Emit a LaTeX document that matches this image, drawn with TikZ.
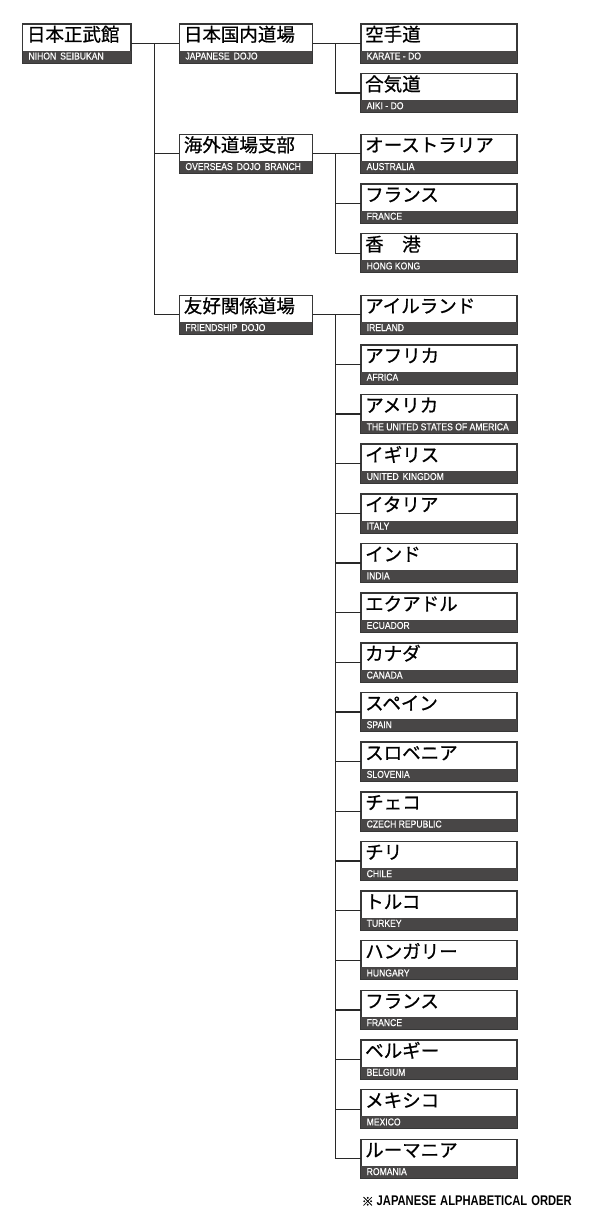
\documentclass[tikz,border=0pt]{standalone}
\usepackage{fontspec}
\newfontfamily\jpfont[FakeBold=0.7]{Noto Sans CJK JP}
\newfontfamily\enfont[FakeStretch=0.86,FakeBold=0.5]{Liberation Sans}
\newfontfamily\notefont[FakeStretch=0.8]{Liberation Sans Bold}
\newfontfamily\notesym[FakeBold=0.5]{Noto Sans CJK JP}
\definecolor{bandcol}{RGB}{72,70,70}
\definecolor{linecol}{RGB}{40,40,40}
\definecolor{borderc}{RGB}{55,55,55}
\newcommand\wsp{\hspace{4pt}}
\newcommand\entrybox[6]{%
  \node[box, minimum width=#4pt] (#1) at (#2,#3) {};
  \fill[bandcol] (#1.south west) rectangle ([yshift=12.5pt]#1.south east);
  \draw[borderc, line width=1pt] (#1.south west) rectangle (#1.north east);
  \node[jptext] (#1-jp) at ([xshift=4.5pt,yshift=-14.2pt]#1.north west) {#5};
  \node[entext] (#1-en) at ([xshift=6pt,yshift=3.5pt]#1.south west) {#6};
}
\tikzset{
  box/.style={draw=borderc, line width=1pt, fill=white, minimum height=38.5pt, inner sep=0pt, anchor=north west},
  jptext/.style={anchor=west, inner sep=0pt, font=\jpfont\fontsize{18.5pt}{20pt}\selectfont, text height=0.8em, text depth=0.08em},
  entext/.style={anchor=base west, inner sep=0pt, text=white, font=\enfont\fontsize{10pt}{11pt}\selectfont},
  conn/.style={draw=linecol, line width=1.3pt},
}
\begin{document}
\begin{tikzpicture}[x=1pt,y=-1pt]
\useasboundingbox (0,0) rectangle (600,1226);
\fill[white] (0,0) rectangle (600,1226);
% level 1 and 2
\entrybox{n0}{22.3}{23.5}{108}{日本正武館}{NIHON\wsp SEIBUKAN}
\entrybox{d1}{179.2}{23.5}{132.5}{日本国内道場}{JAPANESE\wsp DOJO}
\entrybox{d2}{179.2}{134}{132.5}{海外道場支部}{OVERSEAS\wsp DOJO\wsp BRANCH}
\entrybox{d3}{179.2}{295}{132.5}{友好関係道場}{FRIENDSHIP\wsp DOJO}
% level 3
\entrybox{k1}{360.5}{23.5}{155.5}{空手道}{KARATE - DO}
\entrybox{k2}{360.5}{73.2}{155.5}{合気道}{AIKI - DO}
\entrybox{o1}{360.5}{134}{155.5}{オーストラリア}{AUSTRALIA}
\entrybox{o2}{360.5}{183.7}{155.5}{フランス}{FRANCE}
\entrybox{o3}{360.5}{233.4}{155.5}{香　港}{HONG KONG}
\foreach \i/\jp/\en [count=\c from 0] in {
  1/アイルランド/IRELAND,
  2/アフリカ/AFRICA,
  3/アメリカ/THE UNITED STATES OF AMERICA,
  4/イギリス/UNITED\wsp KINGDOM,
  5/イタリア/ITALY,
  6/インド/INDIA,
  7/エクアドル/ECUADOR,
  8/カナダ/CANADA,
  9/スペイン/SPAIN,
  10/スロベニア/SLOVENIA,
  11/チェコ/CZECH REPUBLIC,
  12/チリ/CHILE,
  13/トルコ/TURKEY,
  14/ハンガリー/HUNGARY,
  15/フランス/FRANCE,
  16/ベルギー/BELGIUM,
  17/メキシコ/MEXICO,
  18/ルーマニア/ROMANIA}{
  \pgfmathsetmacro\ty{295+\c*49.65}
  \entrybox{f\i}{360.5}{\ty}{155.5}{\jp}{\en}
}
% connectors
\coordinate (v1) at (154.3,0);
\coordinate (v2) at (335.7,0);
\draw[conn] (n0.east) -- (d1.west);
\draw[conn] (v1 |- n0.east) -- (v1 |- d3.west) -- (d3.west);
\draw[conn] (v1 |- d2.west) -- (d2.west);
\draw[conn] (d1.east) -- (k1.west);
\draw[conn] (v2 |- k1.west) -- (v2 |- k2.west) -- (k2.west);
\draw[conn] (d2.east) -- (o1.west);
\draw[conn] (v2 |- o1.west) -- (v2 |- o3.west) -- (o3.west);
\draw[conn] (v2 |- o2.west) -- (o2.west);
\draw[conn] (d3.east) -- (f1.west);
\draw[conn] (v2 |- f1.west) -- (v2 |- f18.west) -- (f18.west);
\foreach \i in {2,...,17}{
  \draw[conn] (v2 |- f\i.west) -- (f\i.west);
}
% note
\node[anchor=west, inner sep=0pt] (note) at (361.5,1201) {{\notesym\fontsize{12pt}{13pt}\selectfont ※}\hspace{3pt}{\notefont\fontsize{14pt}{15pt}\selectfont JAPANESE\wsp ALPHABETICAL\wsp ORDER}};
\end{tikzpicture}
\end{document}
